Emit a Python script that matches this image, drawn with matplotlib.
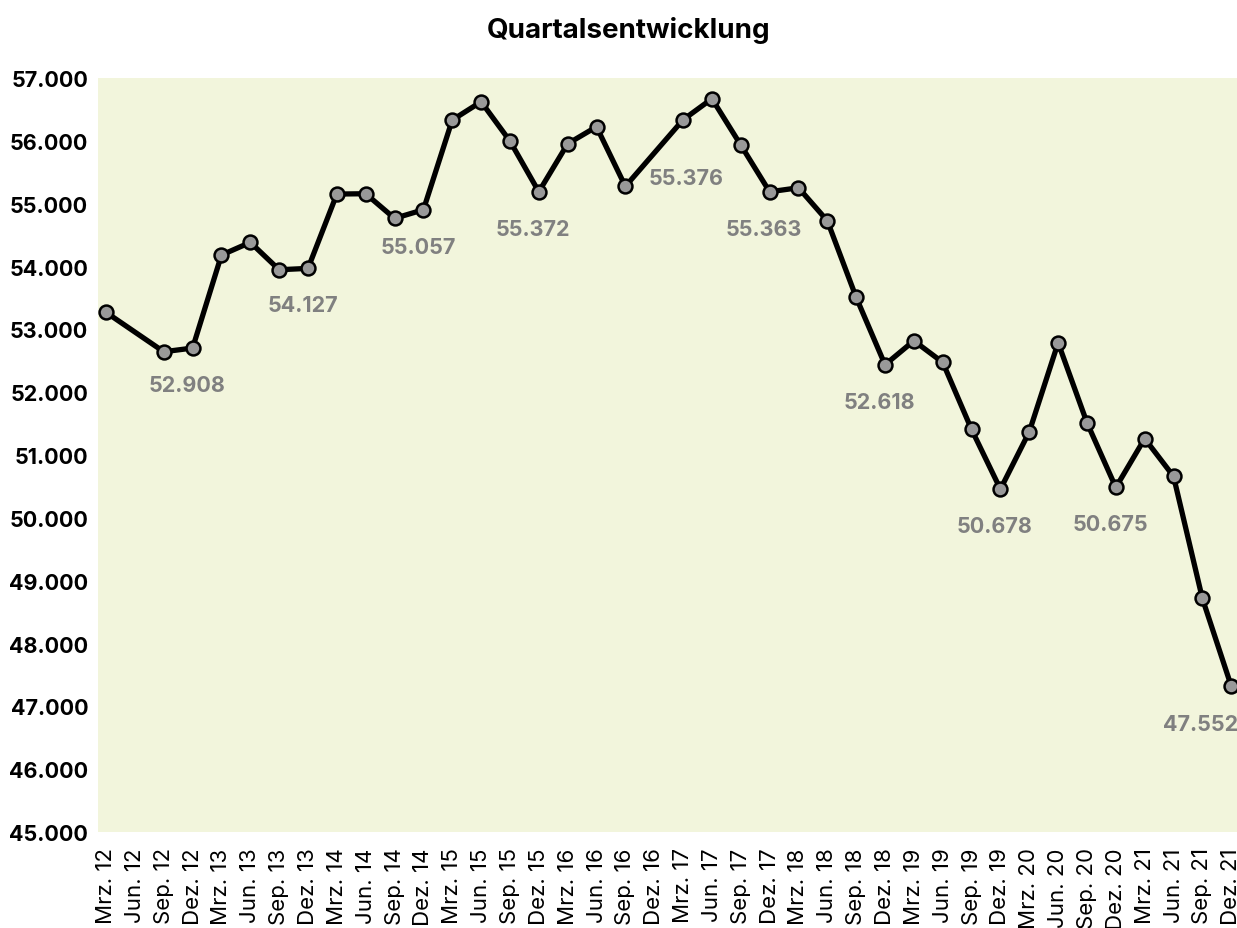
import numpy as np
import matplotlib
matplotlib.use("Agg")
from matplotlib import pyplot as plt
from matplotlib.ticker import FuncFormatter, MultipleLocator

plt.rcParams["font.family"] = ["Inter", "DejaVu Sans"]

quarters = [f"{m} {y}" for y in range(12, 22) for m in ["Mrz.", "Jun.", "Sep.", "Dez."]]

# nan = no value for that quarter (line goes straight across)
values = [
    53271, np.nan, 52644, 52703,
    54183, 54385, 53949, 53971,
    55154, 55159, 54767, 54904,
    56332, 56623, 55997, 55190,
    55954, 56225, 55276, np.nan,
    56336, 56671, 55934, 55190,
    55254, 54729, 53510, 52437,
    52819, 52475, 51407, 50457,
    51370, 52787, 51515, 50484,
    51262, 50661, 48717, 47323,
]

# yearly labels shown under the december points
label_quarters = ["Dez. 12", "Dez. 13", "Dez. 14", "Dez. 15", "Dez. 17",
                  "Dez. 18", "Dez. 19", "Dez. 20", "Dez. 21"]
label_texts = ["52.908", "54.127", "55.057", "55.372", "55.363",
               "52.618", "50.678", "50.675", "47.552"]
# the 2016 label has no point of its own
extra_label = ("55.376", 18.82, 55405)

y = np.array(values, dtype=float)
x = np.arange(len(quarters))
ok = ~np.isnan(y)

fig = plt.figure(figsize=(12.37, 9.29), dpi=100)
ax = fig.add_axes([0.0792, 0.1033, 0.9208, 0.8116])
ax.set_facecolor("#F2F5DC")

ax.plot(x[ok], y[ok], color="black", lw=3.8, marker="o", ms=10,
        mfc="#999999", mec="black", mew=1.8, zorder=3, clip_on=False)

for q, t in zip(label_quarters, label_texts):
    i = quarters.index(q)
    if i == len(quarters) - 1:
        ax.annotate(t, (i, y[i]), xytext=(5, -27), textcoords="offset points",
                    ha="right", va="center", color="#808080",
                    fontsize=15.5, fontweight="bold")
    else:
        ax.annotate(t, (i, y[i]), xytext=(-4, -26.5), textcoords="offset points",
                    ha="center", va="center", color="#808080",
                    fontsize=15.5, fontweight="bold")

ax.text(extra_label[1], extra_label[2], extra_label[0], ha="left", va="center",
        color="#808080", fontsize=15.5, fontweight="bold")

ax.set_xlim(-0.28, 39.2)
ax.set_ylim(45000, 57000)
ax.yaxis.set_major_locator(MultipleLocator(1000))
ax.yaxis.set_major_formatter(FuncFormatter(lambda v, p: f"{int(v):,}".replace(",", ".")))
ax.set_xticks(x)
ax.set_xticklabels(quarters, rotation=90, fontsize=16)

for lbl in ax.get_yticklabels():
    lbl.set_fontweight("bold")
    lbl.set_fontsize(15.5)

ax.tick_params(axis="y", length=0, pad=7)
ax.tick_params(axis="x", length=0, pad=11)
for s in ax.spines.values():
    s.set_visible(False)

fig.suptitle("Quartalsentwicklung", x=0.508, y=0.967, va="center",
             fontsize=20, fontweight="bold")

fig.savefig("out.png", dpi=100)
